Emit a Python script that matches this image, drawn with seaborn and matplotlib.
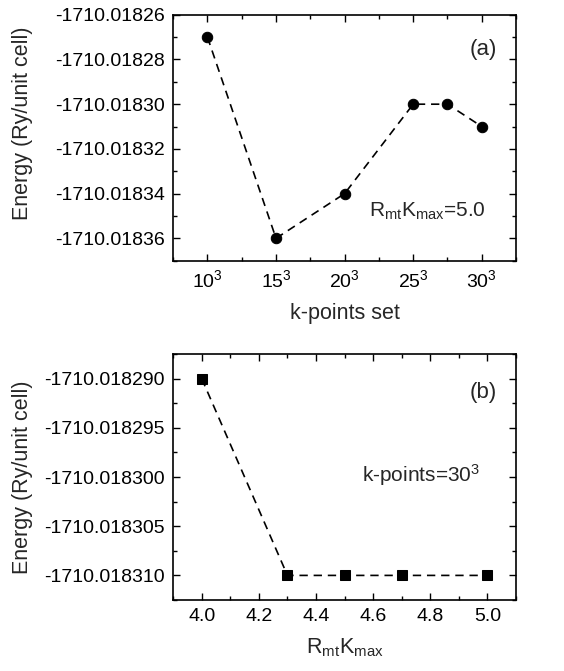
import matplotlib
matplotlib.use("Agg")
import matplotlib.pyplot as plt
import seaborn as sns
import numpy as np
from matplotlib.ticker import MultipleLocator, FormatStrFormatter, FixedLocator, FixedFormatter

# panel (a): k-point convergence at RmtKmax = 5.0
kpoints = [10, 15, 20, 25, 27.5, 30]
energy_k = [-1710.01827, -1710.01836, -1710.01834, -1710.01830, -1710.01830, -1710.01831]
k_ticks = [10, 15, 20, 25, 30]
k_ticklabels = [r"$\mathregular{10^3}$", r"$\mathregular{15^3}$", r"$\mathregular{20^3}$",
                r"$\mathregular{25^3}$", r"$\mathregular{30^3}$"]

# panel (b): RmtKmax convergence at 30^3 k-points
rkmax = [4.0, 4.3, 4.5, 4.7, 5.0]
energy_r = [-1710.018290, -1710.018310, -1710.018310, -1710.018310, -1710.018310]

sns.set_style("ticks")
plt.rcParams["font.family"] = ["Liberation Sans", "DejaVu Sans"]
plt.rcParams["mathtext.fontset"] = "custom"
plt.rcParams["mathtext.rm"] = "Liberation Sans"
plt.rcParams["mathtext.it"] = "Liberation Sans"
plt.rcParams["font.size"] = 14

fig = plt.figure(figsize=(5.64, 6.71), dpi=100)
ax1 = fig.add_axes([0.307, 0.6115, 0.608, 0.3665])
ax2 = fig.add_axes([0.307, 0.1058, 0.608, 0.3666])

def style_axes(ax):
    for s in ax.spines.values():
        s.set_linewidth(1.2)
        s.set_color("black")
    ax.tick_params(which="both", direction="in", top=True, right=True,
                   colors="black", labelsize=14, width=1.0)
    ax.tick_params(which="major", length=5, pad=6)
    ax.tick_params(which="minor", length=3)

sns.lineplot(x=kpoints, y=energy_k, ax=ax1, color="black",
             linewidth=1.2, marker="o", markersize=7.5, markeredgecolor="black")
ax1.lines[0].set_dashes((5, 3.5))
ax1.set_xlim(7.5, 32.5)
ax1.set_ylim(-1710.01837, -1710.01826)
ax1.xaxis.set_major_locator(FixedLocator(k_ticks))
ax1.xaxis.set_major_formatter(FixedFormatter(k_ticklabels))
ax1.xaxis.set_minor_locator(MultipleLocator(2.5))
ax1.yaxis.set_major_locator(MultipleLocator(0.00002))
ax1.yaxis.set_minor_locator(MultipleLocator(0.00001))
ax1.yaxis.set_major_formatter(FormatStrFormatter("%.5f"))
ax1.set_xlabel("k-points set", fontsize=15.5, labelpad=9)
ax1.set_ylabel("Energy (Ry/unit cell)", fontsize=15.5)
ax1.yaxis.set_label_coords(-0.408, 0.56)
ax1.text(0.904, 0.857, "(a)", transform=ax1.transAxes, ha="center", va="center", fontsize=16)
ax1.text(0.74, 0.2, r"R$_{\mathregular{mt}}$K$_{\mathregular{max}}$=5.0",
         transform=ax1.transAxes, ha="center", va="center", fontsize=15)
style_axes(ax1)

sns.lineplot(x=rkmax, y=energy_r, ax=ax2, color="black",
             linewidth=1.2, marker="s", markersize=7, markeredgecolor="black")
ax2.lines[0].set_dashes((5, 3.5))
ax2.set_xlim(3.9, 5.1)
ax2.set_ylim(-1710.0183125, -1710.0182875)
ax2.xaxis.set_major_locator(MultipleLocator(0.2))
ax2.xaxis.set_minor_locator(MultipleLocator(0.1))
ax2.xaxis.set_major_formatter(FormatStrFormatter("%.1f"))
ax2.yaxis.set_major_locator(MultipleLocator(0.000005))
ax2.yaxis.set_minor_locator(MultipleLocator(0.0000025))
ax2.yaxis.set_major_formatter(FormatStrFormatter("%.6f"))
ax2.set_xlabel(r"R$_{\mathregular{mt}}$K$_{\mathregular{max}}$", fontsize=15.5, labelpad=8)
ax2.set_ylabel("Energy (Ry/unit cell)", fontsize=15.5)
ax2.yaxis.set_label_coords(-0.408, 0.5)
ax2.text(0.904, 0.845, "(b)", transform=ax2.transAxes, ha="center", va="center", fontsize=16)
ax2.text(0.723, 0.51, r"k-points=30$^{\mathregular{3}}$",
         transform=ax2.transAxes, ha="center", va="center", fontsize=15)
style_axes(ax2)

fig.savefig("out.png", dpi=100)
